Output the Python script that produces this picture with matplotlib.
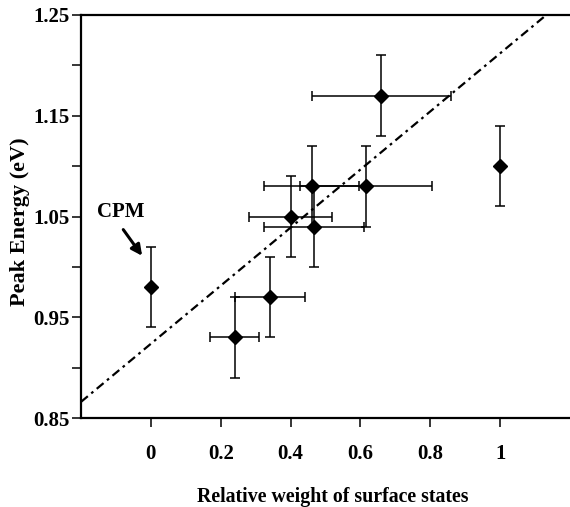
import matplotlib
matplotlib.use('Agg')
import matplotlib.pyplot as plt
from matplotlib.ticker import FixedLocator

# surface-state weight vs peak energy
weight = [0.00, 0.24, 0.34, 0.40, 0.46, 0.467, 0.616, 0.66, 1.00]
energy = [0.98, 0.93, 0.97, 1.05, 1.08, 1.04, 1.08, 1.17, 1.10]
weight_err = [0.0, 0.07, 0.10, 0.12, 0.135, 0.142, 0.19, 0.20, 0.0]
energy_err = [0.04, 0.04, 0.04, 0.04, 0.04, 0.04, 0.04, 0.04, 0.04]

# fitted dash-dot line
fit_x = [-0.2, 1.132]
fit_y = [0.866, 1.25]

xticks = [0, 0.2, 0.4, 0.6, 0.8, 1]
xticklabels = ['0', '0.2', '0.4', '0.6', '0.8', '1']
yticks = [0.85, 0.95, 1.05, 1.15, 1.25]

plt.rcParams['font.family'] = ['Liberation Serif', 'DejaVu Serif']
plt.rcParams['font.weight'] = 'bold'

fig = plt.figure(figsize=(5.7, 5.07), dpi=100)
ax = fig.add_axes([81 / 570, 1 - 418 / 507, 1 - 81 / 570, (418 - 15) / 507])

ax.plot(fit_x, fit_y, color='black', linestyle=(0, (4, 2, 1.2, 2)), linewidth=1.6)

ax.errorbar(weight, energy, xerr=weight_err, yerr=energy_err, fmt='D', color='black',
            markersize=7.5, ecolor='black', elinewidth=1.1, capsize=3.5, capthick=1.1)

# CPM label + arrow
ax.text(-0.085, 1.0545, 'CPM', ha='center', va='center', fontsize=15, fontweight='bold')
ax.annotate('', xy=(-0.025, 1.011), xytext=(-0.079, 1.037),
            arrowprops=dict(arrowstyle='-|>', color='black', lw=2.2, mutation_scale=16,
                            shrinkA=0, shrinkB=0))

ax.set_xlim(-0.2, 1.2)
ax.set_ylim(0.85, 1.25)
ax.set_xticks(xticks)
ax.set_xticklabels(xticklabels)
ax.set_yticks(yticks)
ax.set_yticklabels(['%.2f' % v for v in yticks])
ax.yaxis.set_minor_locator(FixedLocator([0.9, 1.0, 1.1, 1.2]))

ax.tick_params(axis='both', which='both', direction='out', length=6.5, width=1.1,
               labelsize=15)
ax.tick_params(axis='x', pad=12)
ax.tick_params(axis='y', pad=1.5)

ax.spines['right'].set_visible(False)
for s in ['left', 'bottom', 'top']:
    ax.spines[s].set_linewidth(1.6)

ax.set_xlabel('Relative weight of surface states', fontsize=14.3, fontweight='bold')
ax.xaxis.set_label_coords(0.514, -0.171)
ax.set_ylabel('Peak Energy (eV)', fontsize=16, fontweight='bold')
ax.yaxis.set_label_coords(-0.104, 0.4876)

fig.savefig('out.png', dpi=100)
